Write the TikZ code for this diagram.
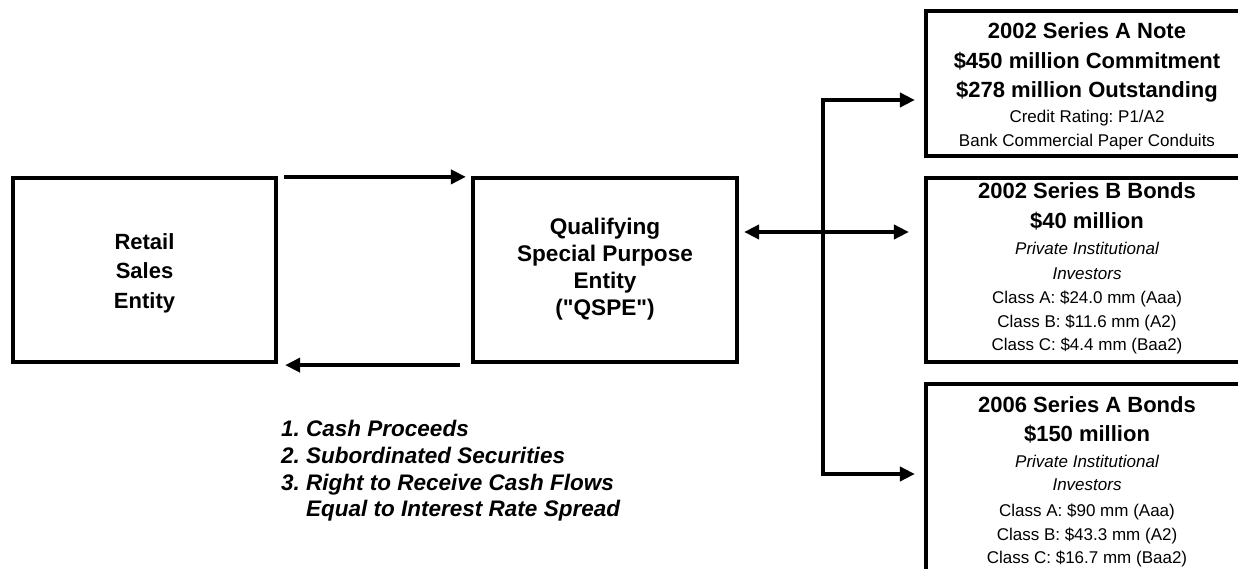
\documentclass[tikz,border=0pt]{standalone}
\usepackage{fontspec}
\setmainfont{Liberation Sans}[Ligatures=TeXOff]
\frenchspacing
\usetikzlibrary{arrows.meta}
\tikzset{
  box/.style={draw, rectangle, line width=4.2pt, inner sep=0pt},
  bt/.style={anchor=base, inner sep=0pt, font=\frenchspacing\fontsize{22}{26}\selectfont\bfseries},
  qt/.style={anchor=base, inner sep=0pt, font=\frenchspacing\fontsize{22.6}{27}\selectfont\bfseries},
  rt/.style={anchor=base, inner sep=0pt, font=\frenchspacing\fontsize{17}{20}\selectfont},
  itx/.style={anchor=base, inner sep=0pt, font=\frenchspacing\fontsize{17}{20}\selectfont\itshape},
  lt/.style={anchor=base west, inner sep=0pt, font=\frenchspacing\fontsize{22.5}{27}\selectfont\bfseries\itshape},
  arr/.style={line width=4.2pt, -{Triangle[length=15pt,width=14pt]}},
  dbl/.style={line width=4.2pt, {Triangle[length=15pt,width=14pt]}-{Triangle[length=15pt,width=14pt]}},
}
\begin{document}
\begin{tikzpicture}[x=1pt,y=-1pt]
\useasboundingbox (0,0) rectangle (1238,569);
\clip (0,0) rectangle (1238,569);
\fill[white] (0,0) rectangle (1238,569);

% boxes
\node[box, minimum width=263pt, minimum height=184pt] (retail) at (144.5,270) {};
\node[box, minimum width=264pt, minimum height=184pt] (qspe) at (605,270) {};
\node[box, minimum width=324pt, minimum height=145pt] (boxA) at (1088,83.5) {};
\node[box, minimum width=324pt, minimum height=184pt] (boxB) at (1088,270) {};
\node[box, minimum width=324pt, minimum height=236pt] (boxC) at (1088,502) {};

% retail text
\node[bt] (r1) at (144.5,249) {Retail};
\node[bt] (r2) at (144.5,278.5) {Sales};
\node[bt] (r3) at (144.5,308) {Entity};

% qspe text
\node[qt] (q1) at (605,235) {Qualifying};
\node[qt] (q2) at (605,261.7) {Special Purpose};
\node[qt] (q3) at (605,288.3) {Entity};
\node[qt] (q4) at (605,315) {("QSPE")};

% box A text
\node[bt] (a1) at (1087,39) {2002 Series A Note};
\node[bt] (a2) at (1087,68.5) {\$450 million Commitment};
\node[bt] (a3) at (1087,98) {\$278 million Outstanding};
\node[rt] (a4) at (1087,123) {Credit Rating: P1/A2};
\node[rt] (a5) at (1087,146.7) {Bank Commercial Paper Conduits};

% box B text
\node[bt] (b1) at (1087,199) {2002 Series B Bonds};
\node[bt] (b2) at (1087,229) {\$40 million};
\node[itx] (b3) at (1087,254.5) {Private Institutional};
\node[itx] (b4) at (1087,279) {Investors};
\node[rt] (b5) at (1087,303) {Class A: \$24.0 mm (Aaa)};
\node[rt] (b6) at (1087,327) {Class B: \$11.6 mm (A2)};
\node[rt] (b7) at (1087,350.5) {Class C: \$4.4 mm (Baa2)};

% box C text
\node[bt] (c1) at (1087,412.5) {2006 Series A Bonds};
\node[bt] (c2) at (1087,441.5) {\$150 million};
\node[itx] (c3) at (1087,467) {Private Institutional};
\node[itx] (c4) at (1087,490.5) {Investors};
\node[rt] (c5) at (1087,516) {Class A: \$90 mm (Aaa)};
\node[rt] (c6) at (1087,540) {Class B: \$43.3 mm (A2)};
\node[rt] (c7) at (1087,563) {Class C: \$16.7 mm (Baa2)};

% list
\node[lt] (l1) at (281,436) {1. Cash Proceeds};
\node[lt] (l2) at (281,463) {2. Subordinated Securities};
\node[lt] (l3) at (281,490) {3. Right to Receive Cash Flows};
\node[lt] (l4) at (281,516.5) {\hphantom{3.\ }Equal to Interest Rate Spread};

% connectors
\draw[arr] ([shift={(6,1)}]retail.north east) -- ([shift={(-5,1)}]qspe.north west);
\draw[arr] ([shift={(-11,1)}]qspe.south west) -- ([shift={(7,1)}]retail.south east);

\coordinate (busmid) at (823,232);
\coordinate (bustop) at (823,100);
\coordinate (busbot) at (823,474);
\draw[dbl, shorten <=5pt, shorten >=15pt] (qspe.east |- busmid) -- (boxB.west |- busmid);
\draw[dbl, shorten <=9pt, shorten >=9pt] (boxA.west |- bustop) -- (bustop) -- (busbot) -- (boxC.west |- busbot);
\end{tikzpicture}
\end{document}
